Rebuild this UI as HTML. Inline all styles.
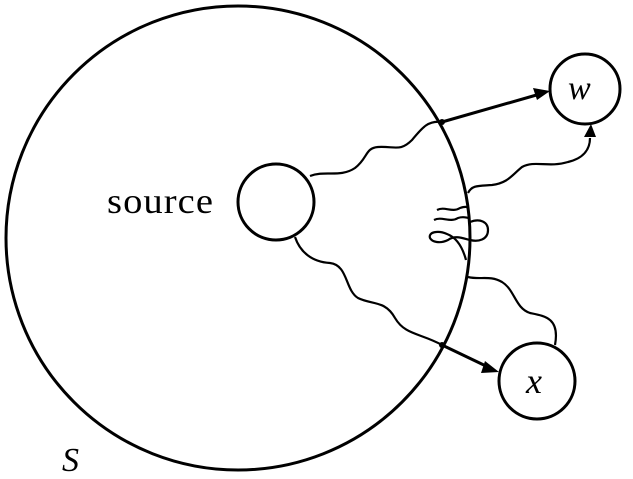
<!DOCTYPE html>
<html><head><meta charset="utf-8"><style>
html,body{margin:0;padding:0;background:#fff;}
svg{display:block;}
</style></head><body>
<svg width="633" height="479" viewBox="0 0 633 479" xmlns="http://www.w3.org/2000/svg">
<g fill="none" stroke="#000" stroke-width="3">
<circle cx="238" cy="238" r="232"/>
<circle cx="276" cy="202" r="38"/>
<circle cx="585" cy="89" r="35"/>
<circle cx="537" cy="381" r="38"/>
</g>
<g fill="none" stroke="#000" stroke-width="2.2">
<path d="M310,176 C325,170 340,178 355,168 C368,158 365,148 378,147 C395,146 400,152 412,140 C422,128 428,120 442,122"/>
<path d="M295,237 C300,252 312,262 330,263 C348,265 345,290 358,298 C372,305 385,300 395,318 C405,335 420,333 442,345"/>
<path d="M468,193 C472,185 478,186 492,185 C508,183 512,175 522,167 C535,160 548,168 568,162 C585,158 590,148 590,138"/>
<path d="M468,277 C480,280 490,275 502,282 C515,290 515,308 530,313 C545,316 560,318 555,345"/>
<path d="M437,210 C445,206 452,213 460,208 C466,206 467,207 468,208"/>
<path d="M434,220 C442,216 450,223 458,218 C464,216 466,218 470,218"/>
<path d="M470,222 C480,218 488,222 488,230 C488,240 478,242 470,240"/>
<path d="M470,240 C462,238 455,235 448,240 C440,244 432,242 430,238 C428,232 438,230 447,234 C455,237 462,245 466,260"/>
</g>
<g stroke="#000" stroke-width="3" fill="none">
<line x1="442" y1="122" x2="540" y2="94"/>
<line x1="442" y1="345" x2="488" y2="367"/>
</g>
<g fill="#000">
<polygon points="550,91 533,88 537,100"/>
<polygon points="499,372 485,361 481,373"/>
<polygon points="591,124 584,137 596,137"/>
<circle cx="442" cy="122" r="3"/>
<circle cx="442" cy="345" r="3"/>
</g>
<text x="107" y="213" font-family="Liberation Serif, serif" font-size="36" letter-spacing="1" textLength="107" lengthAdjust="spacingAndGlyphs">source</text>
<text x="62" y="471" font-family="Liberation Serif, serif" font-size="34" font-style="italic">S</text>
<text x="568" y="99" font-family="Liberation Serif, serif" font-size="34" font-style="italic">w</text>
<text x="526" y="393" font-family="Liberation Serif, serif" font-size="36" font-style="italic">x</text>
</svg>
</body></html>
